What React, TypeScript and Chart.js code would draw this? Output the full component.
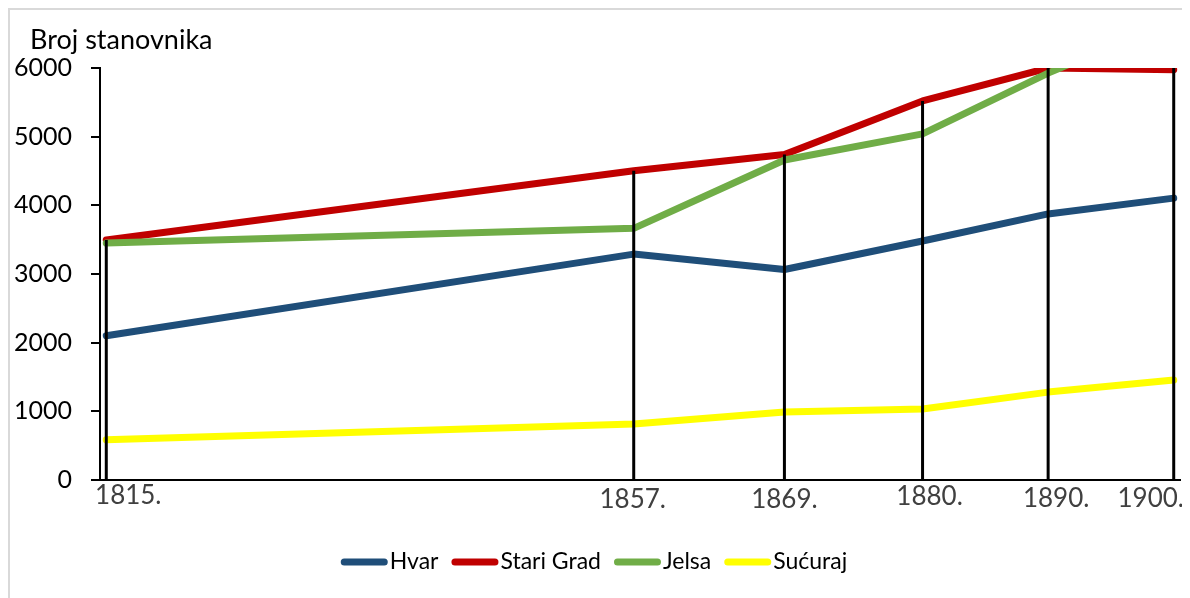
import React, { useEffect, useRef } from "react";
import { Chart, registerables } from "chart.js";

Chart.register(...registerables);

// ---- data ----
const years = [1815, 1857, 1869, 1880, 1890, 1900];
const yearLabels = ["1815.", "1857.", "1869.", "1880.", "1890.", "1900."];
const seriesNames = ["Hvar", "Stari Grad", "Jelsa", "Sućuraj"];
const hvar = [2100, 3290, 3065, 3480, 3875, 4105];
const stariGrad = [3495, 4505, 4740, 5520, 6000, 5975];
const jelsa = [3450, 3665, 4660, 5040, 5925, 6700];
const sucuraj = [585, 815, 990, 1035, 1280, 1455];
const yAxisTitle = "Broj stanovnika";
const yMin = 0;
const yMax = 6000;
const yStep = 1000;

// ---- styles ----
const FONT = "Lato, 'Open Sans', sans-serif";
const seriesColors = ["#1F4E79", "#C00000", "#70AD47", "#FFFF00"];
// per-label nudges of the year labels (pixels), as placed in the original
const yearLabelNudge = [
  [22, 16],
  [-1, 20],
  [0, 20],
  [7, 16.5],
  [8, 18.5],
  [-23, 18.5],
];

const seriesValues = [hvar, stariGrad, jelsa, sucuraj];

const overlayPlugin = {
  id: "overlay",
  afterDatasetsDraw(chart: any) {
    const { ctx, scales } = chart;
    const xs = scales.x;
    const ys = scales.y;
    ctx.save();
    ctx.strokeStyle = "#000000";
    ctx.lineWidth = 3;
    ctx.lineCap = "butt";
    years.forEach((yr, i) => {
      const top = Math.min(
        Math.max(...seriesValues.map((s) => s[i])),
        ys.max
      );
      const x = xs.getPixelForValue(yr);
      ctx.beginPath();
      ctx.moveTo(x, ys.getPixelForValue(0));
      ctx.lineTo(x, ys.getPixelForValue(top));
      ctx.stroke();
    });
    ctx.restore();
  },
  afterDraw(chart: any) {
    const { ctx, chartArea, scales, width } = chart;
    const xs = scales.x;
    ctx.save();
    // axis title
    ctx.fillStyle = "#000000";
    ctx.font = `27px ${FONT}`;
    ctx.textAlign = "left";
    ctx.textBaseline = "middle";
    ctx.fillText(yAxisTitle, chartArea.left - 70, 30);

    // year labels
    ctx.fillStyle = "#404040";
    ctx.font = `26px ${FONT}`;
    ctx.textAlign = "center";
    ctx.textBaseline = "middle";
    years.forEach((yr, i) => {
      const x = xs.getPixelForValue(yr) + yearLabelNudge[i][0];
      const y = chartArea.bottom + yearLabelNudge[i][1];
      ctx.fillText(yearLabels[i], x, y);
    });

    // legend
    ctx.font = `23px ${FONT}`;
    const lineLen = 47;
    const gapAfterLine = 2;
    const gapBetween = 13;
    const widths = seriesNames.map((n) => ctx.measureText(n).width);
    const total =
      widths.reduce((a, b) => a + b, 0) +
      seriesNames.length * (lineLen + gapAfterLine) +
      (seriesNames.length - 1) * gapBetween;
    let x = (width - total) / 2 - 6;
    const ly = 552;
    seriesNames.forEach((name, i) => {
      ctx.strokeStyle = seriesColors[i];
      ctx.lineWidth = 7;
      ctx.lineCap = "round";
      ctx.beginPath();
      ctx.moveTo(x + 3.5, ly);
      ctx.lineTo(x + lineLen - 3.5, ly);
      ctx.stroke();
      ctx.fillStyle = "#000000";
      ctx.textAlign = "left";
      ctx.textBaseline = "middle";
      ctx.fillText(name, x + lineLen + gapAfterLine, ly);
      x += lineLen + gapAfterLine + widths[i] + gapBetween;
    });
    ctx.restore();
  },
};

export default function App() {
  const canvasRef = useRef<HTMLCanvasElement | null>(null);

  useEffect(() => {
    document.documentElement.style.overflow = "hidden";
    document.body.style.overflow = "hidden";
    const canvas = canvasRef.current;
    if (!canvas) return;
    const datasets = seriesNames.map((name, i) => ({
      label: name,
      data: years.map((yr, j) => ({ x: yr, y: seriesValues[i][j] })),
      borderColor: seriesColors[i],
      backgroundColor: seriesColors[i],
      borderWidth: 7,
      borderCapStyle: "round" as const,
      borderJoinStyle: "round" as const,
      pointRadius: 0,
      pointHoverRadius: 0,
      tension: 0,
      fill: false,
      order: seriesNames.length - i,
    }));
    const chart = new Chart(canvas, {
      type: "line",
      data: { datasets },
      plugins: [overlayPlugin],
      options: {
        animation: false,
        responsive: true,
        maintainAspectRatio: false,
        layout: { padding: { left: 0, right: 10, top: 58, bottom: 68 } },
        plugins: {
          legend: { display: false },
          title: { display: false },
          tooltip: { enabled: false },
        },
        scales: {
          x: {
            type: "linear",
            min: 1814.5,
            max: 1900.5,
            ticks: { display: false },
            grid: { display: true, drawOnChartArea: false, drawTicks: false },
            border: { display: true, color: "#000000", width: 2 },
            afterFit: (scale: any) => {
              scale.height = 50;
            },
          },
          y: {
            type: "linear",
            min: yMin,
            max: yMax,
            ticks: {
              stepSize: yStep,
              color: "#000000",
              padding: 19,
              font: { family: FONT, size: 25 },
              callback: (v: any) => String(v),
            },
            grid: {
              display: true,
              drawOnChartArea: false,
              drawTicks: true,
              tickLength: 9,
              color: "#000000",
              lineWidth: 2,
            },
            border: { display: true, color: "#000000", width: 2 },
            afterFit: (scale: any) => {
              scale.width = 90;
            },
          },
        },
      },
    });
    return () => chart.destroy();
  }, []);

  return (
    <div
      style={{
        position: "relative",
        width: 1180,
        height: 588,
        borderTop: "2px solid #d9d9d9",
        borderLeft: "2px solid #d9d9d9",
        background: "#ffffff",
      }}
    >
      <canvas ref={canvasRef} />
    </div>
  );
}
